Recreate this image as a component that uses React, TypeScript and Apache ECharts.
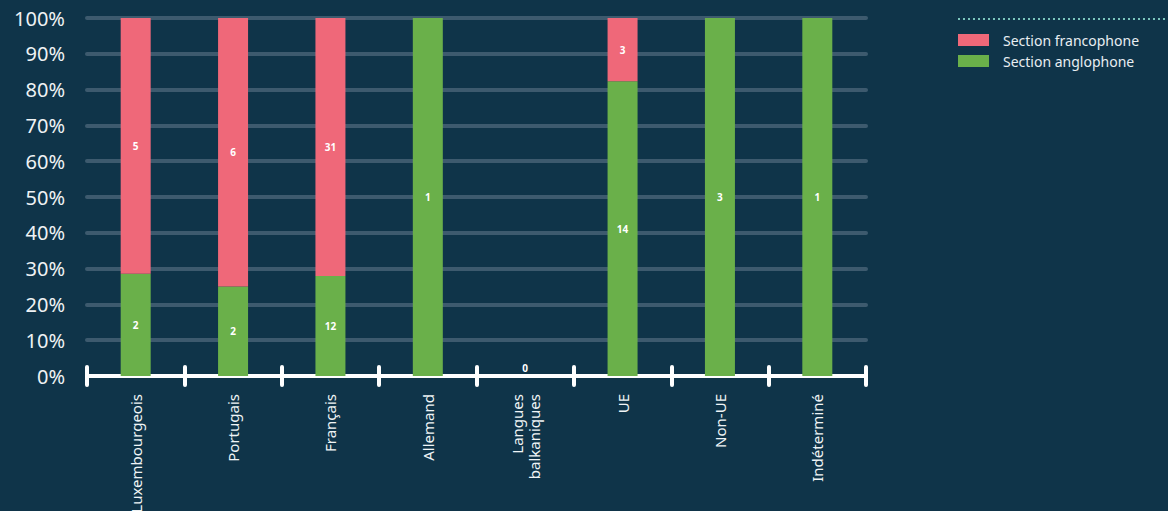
import React, { useEffect, useRef } from "react";
import * as echarts from "echarts";

const categories = [
  "Luxembourgeois",
  "Portugais",
  "Français",
  "Allemand",
  "Langues\nbalkaniques",
  "UE",
  "Non-UE",
  "Indéterminé",
];
const francophone = [5, 6, 31, 0, 0, 3, 0, 0];
const anglophone = [2, 2, 12, 1, 0, 14, 3, 1];
const yTicks = [0, 10, 20, 30, 40, 50, 60, 70, 80, 90, 100];

const BG = "#0f3449";
const PINK = "#ef6879";
const GREEN = "#6ab04a";
const FONT = "Noto Sans";

export default function App() {
  const ref = useRef<HTMLDivElement>(null);
  useEffect(() => {
    if (!ref.current) return;
    const chart = echarts.init(ref.current, undefined, { renderer: "svg" });
    const totals = categories.map((_, i) => francophone[i] + anglophone[i]);
    const pct = (arr: number[]) =>
      arr.map((v, i) => (totals[i] > 0 ? (v / totals[i]) * 100 : 0));
    const frPct = pct(francophone);
    const anPct = pct(anglophone);

    const labelBase = {
      show: true,
      position: "inside",
      color: "#ffffff",
      fontSize: 10,
      fontWeight: "bold",
      fontFamily: FONT,
    };

    const anData = anPct.map((v, i) => {
      if (totals[i] === 0) {
        return {
          value: v,
          label: { ...labelBase, position: "top", distance: 3, formatter: String(anglophone[i]) },
        };
      }
      return {
        value: v,
        label: anglophone[i] > 0 ? { ...labelBase, formatter: String(anglophone[i]) } : { show: false },
      };
    });
    const frData = frPct.map((v, i) => ({
      value: v,
      label: francophone[i] > 0 ? { ...labelBase, formatter: String(francophone[i]) } : { show: false },
    }));

    chart.setOption({
      animation: false,
      backgroundColor: BG,
      textStyle: { fontFamily: FONT },
      grid: {
        left: 87,
        right: 302,
        top: 18,
        bottom: 135,
        containLabel: false,
        outerBoundsMode: "none",
      },
      legend: {
        orient: "vertical",
        left: 953,
        top: 28,
        itemWidth: 31,
        itemHeight: 12,
        itemGap: 7,
        icon: "rect",
        textStyle: { color: "#e8eef2", fontSize: 14, fontFamily: FONT, padding: [0, 0, 0, 9] },
        data: ["Section francophone", "Section anglophone"],
      },
      graphic: [
        {
          type: "line",
          shape: { x1: 958, y1: 19, x2: 1168, y2: 19 },
          style: { stroke: "#7cc6bd", lineWidth: 2, lineDash: [2, 3] },
        },
      ],
      xAxis: [
        {
          type: "category",
          data: categories,
          axisLine: { show: true, lineStyle: { color: "#ffffff", width: 4, cap: "round" } },
          axisTick: { show: false },
          axisLabel: {
            rotate: 90,
            color: "#f0f4f6",
            fontSize: 15,
            fontFamily: FONT,
            margin: 18,
            lineHeight: 17,
            interval: 0,
          },
          splitLine: { show: false },
        },
        {
          type: "category",
          data: categories,
          position: "bottom",
          offset: -9,
          axisLine: { show: false },
          axisTick: {
            show: true,
            interval: 0,
            length: 18,
            lineStyle: { color: "#ffffff", width: 4, cap: "round" },
          },
          axisLabel: { show: false, interval: 0 },
        },
      ],
      yAxis: {
        type: "value",
        min: 0,
        max: 100,
        interval: 10,
        axisLine: { show: false },
        axisTick: { show: false },
        axisLabel: {
          color: "#eef2f4",
          fontSize: 20,
          fontFamily: FONT,
          margin: 22,
          formatter: (v: number) => (yTicks.includes(v) ? v + "%" : ""),
        },
        splitLine: { show: true, lineStyle: { color: "#3d5a6e", width: 4, cap: "round" } },
      },
      series: [
        {
          name: "Section anglophone",
          type: "bar",
          stack: "total",
          barWidth: 30,
          itemStyle: { color: GREEN },
          data: anData,
          z: 3,
        },
        {
          name: "Section francophone",
          type: "bar",
          stack: "total",
          barWidth: 30,
          itemStyle: { color: PINK },
          data: frData,
          z: 3,
        },
      ],
    });
    return () => chart.dispose();
  }, []);
  return <div ref={ref} style={{ width: 1168, height: 511, position: "absolute", left: 0, top: 0 }} />;
}
